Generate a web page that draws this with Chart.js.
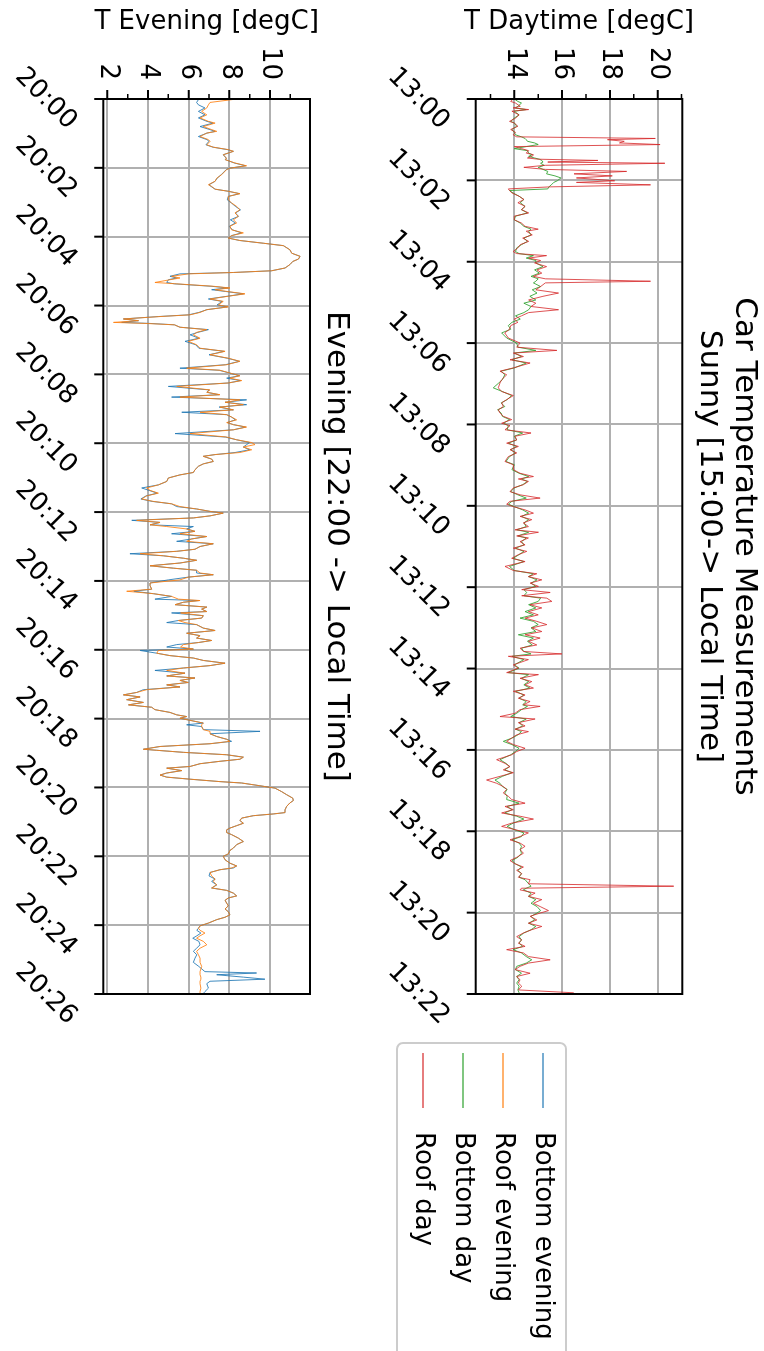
<!DOCTYPE html>
<html lang="en">
<head>
<meta charset="UTF-8">
<title>Car Temperature Measurements</title>
<script src="https://cdn.jsdelivr.net/npm/chart.js@4"></script>
<style>
  body { margin: 0; background: #fff; overflow: hidden; }
  /* the figure is laid out landscape and turned a quarter turn clockwise */
  #fig {
    position: absolute; left: 0; top: 0;
    width: 1351px; height: 764px;
    transform-origin: 0 0;
    transform: translate(764px, 0) rotate(90deg);
    background: #fff;
  }
  #fig canvas { position: absolute; left: 0; }
  #dayCanvas { top: 0; }
  #eveCanvas { top: 400px; }
</style>
</head>
<body>
<div id="fig">
  <canvas id="dayCanvas" width="1351" height="400"></canvas>
  <canvas id="eveCanvas" width="1351" height="364"></canvas>
</div>
<script>
// minutes after 13:00
const dayMinutes = [
  0, 0.06, 0.1, 0.18, 0.22, 0.26, 0.3, 0.39, 0.47, 0.55,
  0.59, 0.67, 0.75, 0.82, 0.88, 0.93, 0.97, 1.0, 1.04, 1.08,
  1.12, 1.17, 1.22, 1.27, 1.33, 1.37, 1.41, 1.45, 1.48, 1.51,
  1.55, 1.58, 1.63, 1.68, 1.73, 1.78, 1.84, 1.89, 1.94, 2.01,
  2.05, 2.11, 2.16, 2.21, 2.25, 2.31, 2.39, 2.47, 2.55, 2.64,
  2.72, 2.8, 2.88, 2.97, 3.05, 3.13, 3.2, 3.25, 3.34, 3.42,
  3.5, 3.58, 3.66, 3.75, 3.8, 3.85, 3.91, 3.97, 4.03, 4.12,
  4.2, 4.28, 4.36, 4.42, 4.48, 4.52, 4.61, 4.69, 4.77, 4.85,
  4.94, 5.02, 5.1, 5.18, 5.25, 5.33, 5.41, 5.49, 5.57, 5.66,
  5.75, 5.875, 6.0, 6.1, 6.18, 6.245, 6.33, 6.41, 6.49, 6.61,
  6.69, 6.78, 6.9, 6.98, 7.1, 7.19, 7.29, 7.39, 7.47, 7.56,
  7.64, 7.72, 7.8, 7.88, 7.97, 8.03, 8.13, 8.21, 8.29, 8.38,
  8.46, 8.54, 8.62, 8.7, 8.79, 8.91, 8.99, 9.11, 9.2, 9.28,
  9.34, 9.4, 9.48, 9.56, 9.65, 9.73, 9.81, 9.89, 9.96, 10.02,
  10.1, 10.18, 10.26, 10.34, 10.42, 10.51, 10.59, 10.65, 10.74, 10.79,
  10.88, 10.96, 11.04, 11.12, 11.2, 11.29, 11.37, 11.49, 11.59, 11.67,
  11.74, 11.82, 11.9, 11.98, 12.06, 12.13, 12.21, 12.27, 12.35, 12.43,
  12.51, 12.6, 12.68, 12.76, 12.84, 12.92, 13.0, 13.09, 13.17, 13.25,
  13.33, 13.42, 13.5, 13.58, 13.64, 13.7, 13.78, 13.91, 13.99, 14.1,
  14.15, 14.24, 14.32, 14.4, 14.48, 14.56, 14.65, 14.73, 14.81, 14.89,
  14.93, 15.01, 15.1, 15.18, 15.24, 15.33, 15.41, 15.49, 15.55, 15.63,
  15.71, 15.79, 15.87, 15.96, 16.04, 16.12, 16.24, 16.33, 16.41, 16.49,
  16.56, 16.65, 16.74, 16.82, 16.9, 16.97, 17.06, 17.14, 17.22, 17.31,
  17.39, 17.47, 17.55, 17.63, 17.7, 17.8, 17.88, 17.96, 18.04, 18.13,
  18.21, 18.29, 18.37, 18.45, 18.54, 18.64, 18.72, 18.8, 18.88, 18.96,
  19.04, 19.13, 19.19, 19.29, 19.35, 19.4, 19.44, 19.52, 19.6, 19.68,
  19.77, 19.85, 19.95, 20.01, 20.09, 20.18, 20.26, 20.34, 20.42, 20.5,
  20.59, 20.67, 20.75, 20.83, 20.91, 20.99, 21.08, 21.16, 21.24, 21.32,
  21.4, 21.49, 21.57, 21.65, 21.73, 21.81, 21.9, 21.97, 22.0
];
const roofDay = [
  13.95, 13.85, 14.05, 14.25, 13.95, 14.6, 13.9, 14.2, 14.05, 13.8,
  14.0, 14.15, 13.85, 14.05, 13.95, 14.1, 19.9, 17.9, 18.6, 18.4,
  20.1, 14.0, 14.3, 14.6, 14.5, 14.8, 14.75, 14.55, 15.0, 17.5,
  15.4, 20.3, 15.3, 14.4, 15.3, 18.7, 16.5, 18.1, 16.6, 18.2,
  16.6, 19.7, 15.5, 13.75, 13.8, 13.9, 14.2, 14.4, 14.15, 14.45,
  14.3, 14.6, 14.0, 14.0, 14.3, 14.45, 15.0, 14.5, 14.75, 14.35,
  14.6, 14.25, 14.15, 13.95, 14.1, 15.35, 14.6, 15.1, 14.85, 15.35,
  14.95, 15.15, 14.8, 15.3, 19.7, 15.3, 15.1, 14.9, 15.85, 15.2,
  14.6, 14.9, 14.7, 15.85, 14.6, 14.3, 14.0, 14.15, 13.85, 13.8,
  13.6, 13.75, 14.24, 14.1, 15.78, 13.96, 14.38, 13.82, 14.66, 13.96,
  13.4, 13.68, 13.47, 13.4, 13.33, 13.47, 13.96, 13.68, 13.47, 13.54,
  13.33, 13.4, 13.54, 13.89, 13.47, 13.82, 13.61, 14.7, 14.03, 14.1,
  13.68, 14.17, 13.82, 14.1, 13.75, 13.61, 13.96, 13.96, 14.24, 14.8,
  14.17, 14.59, 14.38, 13.96, 13.82, 14.24, 15.08, 13.82, 13.68, 13.96,
  14.45, 14.8, 14.24, 14.73, 14.38, 14.59, 14.03, 15.01, 14.1, 14.59,
  14.24, 14.45, 13.96, 14.52, 14.17, 13.89, 14.45, 13.61, 13.96, 14.94,
  14.59, 15.15, 14.66, 15.01, 14.31, 15.5, 14.31, 15.36, 15.57, 14.66,
  15.15, 14.59, 15.0, 14.45, 14.94, 15.36, 14.73, 15.15, 14.45, 15.08,
  14.59, 14.94, 14.24, 14.38, 15.99, 13.75, 14.59, 13.96, 14.17, 13.68,
  15.01, 14.24, 14.73, 14.45, 14.8, 13.96, 14.45, 14.17, 14.66, 14.38,
  15.08, 14.24, 14.03, 13.4, 14.87, 14.17, 14.45, 14.03, 14.59, 14.1,
  13.89, 13.68, 13.96, 14.45, 14.1, 13.89, 13.26, 13.61, 13.82, 13.54,
  13.96, 13.4, 12.84, 13.26, 13.54, 13.68, 13.54, 13.75, 13.89, 14.45,
  13.61, 13.96, 13.47, 14.24, 14.8, 13.89, 13.47, 14.03, 14.59, 14.24,
  13.82, 14.24, 14.45, 14.24, 14.38, 14.1, 13.82, 14.03, 14.38, 14.1,
  14.31, 14.17, 14.66, 14.59, 20.67, 14.3, 14.24, 14.87, 14.59, 15.15,
  14.8, 15.08, 15.43, 15.08, 14.66, 14.94, 14.59, 15.15, 14.73, 14.38,
  14.1, 14.31, 14.17, 14.45, 13.68, 14.38, 14.59, 15.5, 14.59, 14.24,
  14.03, 14.66, 14.1, 14.24, 14.17, 14.31, 14.17, 16.48, 16.48
];
const bottomDay = [
  14.0, 14.15, 14.3, 14.15, 14.05, 14.5, 14.0, 14.2, 14.0, 13.85,
  14.0, 14.1, 13.9, 14.0, 14.05, 14.3, 14.45, 14.5, 14.55, 14.85,
  15.0, 14.5, 14.0, 14.55, 14.6, 14.75, 14.6, 14.85, 15.05, 15.15,
  15.2, 15.1, 15.25, 15.0, 15.2, 15.4, 15.35, 15.7, 15.95, 15.8,
  15.65, 15.55, 15.45, 15.4, 13.8, 13.95, 14.2, 14.4, 14.25, 14.45,
  14.3, 14.55, 14.05, 14.0, 14.25, 14.4, 14.7, 14.6, 14.7, 14.4,
  14.55, 14.3, 14.1, 14.05, 14.2, 14.8, 14.5, 14.9, 14.9, 15.2,
  14.85, 15.05, 14.7, 15.0, 14.9, 14.8, 15.1, 14.75, 14.95, 14.65,
  14.9, 14.4, 14.7, 14.6, 14.4, 14.05, 14.25, 13.9, 13.75, 13.85,
  13.47, 13.68, 14.1, 14.15, 14.9, 14.0, 14.3, 13.9, 14.5, 14.0,
  13.45, 13.6, 13.5, 13.35, 13.12, 13.5, 13.89, 13.7, 13.45, 13.6,
  13.3, 13.45, 13.5, 13.8, 13.55, 13.75, 13.7, 14.35, 14.0, 14.1,
  13.75, 14.1, 13.85, 14.05, 13.8, 13.65, 14.0, 13.9, 14.2, 14.6,
  14.3, 14.55, 14.35, 14.0, 13.85, 14.15, 14.5, 13.9, 13.75, 14.0,
  14.35, 14.6, 14.3, 14.6, 14.4, 14.5, 14.1, 14.6, 14.15, 14.5,
  14.3, 14.4, 14.05, 14.4, 14.2, 13.95, 14.4, 13.8, 14.0, 14.8,
  14.6, 14.95, 14.7, 14.9, 14.4, 14.52, 14.4, 15.1, 15.0, 14.6,
  14.9, 14.45, 14.8, 14.24, 14.8, 15.0, 14.7, 14.9, 14.17, 14.8,
  14.55, 14.75, 14.3, 14.4, 14.7, 13.9, 14.4, 14.0, 14.2, 13.75,
  14.6, 14.3, 14.6, 14.4, 14.65, 14.05, 14.4, 14.2, 14.5, 14.35,
  14.55, 14.3, 14.1, 13.85, 14.5, 14.2, 14.35, 14.05, 14.3, 14.15,
  13.9, 13.54, 13.9, 14.2, 14.05, 13.85, 13.4, 13.65, 13.8, 13.6,
  13.9, 13.5, 13.19, 13.4, 13.5, 13.7, 13.6, 13.7, 13.68, 14.2,
  13.7, 13.9, 13.6, 14.1, 14.4, 13.95, 13.7, 14.0, 14.4, 14.3,
  13.9, 14.2, 14.3, 14.25, 14.3, 14.15, 13.9, 14.05, 14.3, 14.15,
  14.3, 14.2, 14.45, 14.6, 14.7, 14.5, 14.38, 14.7, 14.6, 14.9,
  14.7, 14.95, 15.1, 14.95, 14.7, 14.85, 14.6, 14.9, 14.7, 14.4,
  14.2, 14.3, 14.2, 14.35, 13.95, 14.3, 14.5, 14.73, 14.5, 14.1,
  14.05, 14.3, 14.1, 14.2, 14.1, 14.2, 14.15, 14.2, 14.2
];

// minutes after 20:00
const eveMinutes = [
  0, 0.1, 0.17, 0.26, 0.36, 0.46, 0.55, 0.65, 0.7, 0.8,
  0.89, 0.94, 0.99, 1.09, 1.18, 1.23, 1.33, 1.4, 1.47, 1.52,
  1.62, 1.72, 1.76, 1.86, 1.94, 2.01, 2.05, 2.2, 2.3, 2.39,
  2.49, 2.54, 2.62, 2.68, 2.75, 2.83, 2.93, 3.02, 3.12, 3.22,
  3.31, 3.41, 3.51, 3.6, 3.7, 3.8, 3.89, 3.97, 4.04, 4.11,
  4.19, 4.26, 4.38, 4.48, 4.57, 4.65, 4.72, 4.81, 4.91, 4.99,
  5.04, 5.08, 5.15, 5.2, 5.25, 5.33, 5.37, 5.44, 5.49, 5.54,
  5.59, 5.66, 5.73, 5.81, 5.88, 5.98, 6.04, 6.12, 6.2, 6.27,
  6.32, 6.39, 6.44, 6.49, 6.52, 6.56, 6.63, 6.7, 6.78, 6.85,
  6.95, 7.04, 7.14, 7.24, 7.33, 7.43, 7.53, 7.62, 7.72, 7.82,
  7.88, 7.96, 8.04, 8.11, 8.18, 8.25, 8.35, 8.45, 8.52, 8.59,
  8.66, 8.74, 8.81, 8.88, 8.95, 9.03, 9.1, 9.17, 9.24, 9.32,
  9.4, 9.46, 9.53, 9.61, 9.72, 9.82, 9.9, 9.98, 10.04, 10.11,
  10.19, 10.27, 10.33, 10.38, 10.46, 10.53, 10.6, 10.67, 10.77, 10.85,
  10.92, 11.01, 11.11, 11.21, 11.3, 11.37, 11.45, 11.53, 11.62, 11.69,
  11.76, 11.84, 11.91, 11.98, 12.03, 12.11, 12.17, 12.24, 12.3, 12.37,
  12.42, 12.49, 12.56, 12.63, 12.71, 12.78, 12.85, 12.92, 13.0, 13.08,
  13.14, 13.21, 13.27, 13.34, 13.4, 13.48, 13.56, 13.63, 13.69, 13.77,
  13.82, 13.89, 13.97, 14.06, 14.14, 14.24, 14.3, 14.37, 14.45, 14.53,
  14.57, 14.62, 14.69, 14.76, 14.82, 14.89, 14.93, 15.01, 15.08, 15.15,
  15.21, 15.27, 15.37, 15.44, 15.52, 15.59, 15.66, 15.73, 15.79, 15.85,
  15.92, 15.98, 16.02, 16.1, 16.17, 16.24, 16.31, 16.39, 16.46, 16.53,
  16.6, 16.68, 16.76, 16.82, 16.89, 16.95, 17.02, 17.08, 17.16, 17.24,
  17.31, 17.37, 17.45, 17.53, 17.6, 17.67, 17.74, 17.82, 17.89, 17.94,
  17.99, 18.05, 18.13, 18.18, 18.23, 18.32, 18.37, 18.44, 18.52, 18.6,
  18.66, 18.73, 18.81, 18.89, 18.92, 18.98, 19.05, 19.12, 19.18, 19.24,
  19.31, 19.39, 19.44, 19.51, 19.58, 19.64, 19.7, 19.76, 19.83, 19.87,
  19.95, 20.02, 20.12, 20.21, 20.31, 20.38, 20.45, 20.55, 20.65, 20.73,
  20.77, 20.82, 20.89, 20.96, 21.04, 21.11, 21.18, 21.23, 21.31, 21.37,
  21.47, 21.57, 21.66, 21.76, 21.83, 21.93, 22.0, 22.1, 22.2, 22.28,
  22.34, 22.39, 22.47, 22.57, 22.66, 22.73, 22.83, 22.92, 22.99, 23.07,
  23.15, 23.21, 23.28, 23.36, 23.44, 23.53, 23.61, 23.7, 23.77, 23.84,
  23.94, 24.02, 24.09, 24.15, 24.23, 24.31, 24.38, 24.47, 24.57, 24.67,
  24.76, 24.86, 24.96, 25.08, 25.2, 25.35, 25.39, 25.44, 25.51, 25.57,
  25.63, 25.7, 25.83, 25.93, 26.0
];
const roofEvening = [
  8.36, 7.05, 6.97, 6.89, 6.64, 6.89, 6.56, 6.97, 7.3, 6.72,
  7.13, 7.38, 6.89, 6.56, 6.97, 7.05, 6.89, 7.21, 7.95, 8.2,
  7.7, 7.87, 7.79, 8.28, 8.85, 8.03, 7.87, 7.62, 7.38, 7.3,
  6.97, 7.13, 7.3, 7.95, 8.52, 7.95, 7.95, 8.11, 8.36, 8.52,
  8.28, 8.44, 8.2, 8.36, 8.03, 8.11, 8.69, 8.11, 7.95, 8.52,
  9.67, 10.66, 10.98, 11.07, 11.48, 11.4, 11.12, 10.98, 10.74, 10.08,
  8.2, 6.0, 5.16, 5.57, 5.08, 4.34, 5.41, 7.21, 8.03, 7.3,
  7.87, 8.77, 7.95, 7.05, 7.7, 7.46, 7.95, 6.89, 6.56, 6.07,
  4.59, 2.79, 3.53, 2.3, 3.9, 5.3, 5.57, 6.89, 6.39, 6.23,
  6.56, 5.98, 6.39, 6.56, 7.79, 7.05, 7.95, 8.52, 7.87, 5.9,
  7.54, 8.03, 8.52, 8.03, 8.61, 7.95, 5.41, 7.05, 6.89, 7.54,
  5.57, 8.52, 7.79, 8.69, 7.54, 8.2, 6.56, 7.87, 8.11, 8.36,
  7.87, 8.2, 8.85, 8.2, 6.07, 7.87, 8.36, 9.1, 9.26, 8.69,
  9.1, 8.52, 7.3, 6.72, 7.13, 7.21, 6.72, 6.48, 6.31, 6.23,
  5.57, 5.0, 4.92, 4.51, 3.93, 4.1, 4.51, 3.93, 3.69, 4.26,
  5.16, 5.57, 6.39, 7.05, 7.7, 7.05, 6.23, 3.44, 4.59, 4.1,
  4.92, 5.9, 6.31, 5.57, 6.89, 6.15, 5.9, 7.21, 6.56, 6.31,
  5.41, 3.61, 4.75, 5.74, 6.39, 5.57, 4.1, 5.25, 6.39, 6.56,
  7.21, 5.98, 5.57, 4.1, 4.1, 4.18, 2.95, 4.26, 5.16, 5.5,
  6.56, 5.74, 5.33, 6.89, 6.64, 6.89, 5.6, 6.72, 6.64, 5.49,
  5.82, 6.39, 6.72, 7.3, 5.9, 6.56, 6.39, 7.13, 6.48, 5.74,
  5.6, 6.23, 4.51, 4.43, 5.08, 6.23, 6.72, 7.79, 7.05, 5.74,
  4.92, 5.82, 4.92, 6.31, 5.57, 5.98, 4.92, 5.57, 3.93, 3.44,
  2.79, 3.61, 2.95, 3.77, 3.04, 4.18, 4.34, 5.08, 5.41, 5.9,
  5.57, 6.07, 6.72, 6.64, 6.64, 6.72, 7.05, 7.05, 7.38, 7.87,
  8.03, 7.05, 4.59, 3.77, 4.43, 5.74, 7.87, 8.69, 8.52, 7.54,
  6.56, 6.07, 4.92, 5.66, 4.92, 4.59, 4.92, 6.07, 7.54, 8.6,
  9.5, 10.25, 10.57, 10.82, 11.12, 11.15, 10.98, 10.82, 10.74, 10.74,
  10.16, 9.18, 8.61, 8.52, 8.69, 8.36, 8.03, 7.87, 7.87, 8.11,
  8.44, 8.69, 8.36, 8.2, 8.03, 7.95, 7.7, 7.79, 8.03, 8.36,
  8.11, 7.54, 7.05, 7.13, 7.3, 7.21, 7.38, 7.13, 7.87, 8.2,
  8.36, 7.95, 7.79, 7.87, 7.95, 7.79, 7.95, 8.03, 7.79, 7.38,
  6.97, 6.56, 6.48, 6.56, 6.8, 6.56, 6.39, 6.72, 6.89, 6.56,
  6.39, 6.48, 6.56, 6.56, 6.64, 6.56, 6.56, 6.56, 6.6, 6.6,
  6.56, 6.56, 6.6, 6.56, 6.56
];
const bottomEvening = [
  6.5, 6.39, 6.48, 6.8, 6.48, 6.8, 6.48, 6.9, 7.2, 6.56,
  7.05, 7.3, 6.9, 6.48, 6.9, 7.0, 6.85, 7.2, 7.9, 8.2,
  7.7, 7.85, 7.8, 8.25, 8.8, 8.0, 7.85, 7.6, 7.4, 7.3,
  7.0, 7.1, 7.3, 7.95, 8.5, 7.95, 7.9, 8.1, 8.3, 8.55,
  8.3, 8.45, 8.05, 8.3, 8.0, 8.15, 8.6, 8.1, 7.95, 8.5,
  9.67, 10.66, 10.98, 11.07, 11.48, 11.4, 11.12, 10.98, 10.74, 10.08,
  8.2, 5.57, 5.08, 5.41, 5.0, 4.92, 5.3, 7.1, 7.95, 7.13,
  7.8, 8.7, 7.9, 6.97, 7.65, 7.4, 7.9, 6.9, 6.5, 6.0,
  4.5, 2.79, 3.53, 2.7, 4.1, 5.3, 5.57, 6.97, 6.45, 6.07,
  6.5, 5.82, 6.35, 6.5, 7.75, 7.0, 7.9, 8.5, 7.8, 5.57,
  7.5, 8.0, 8.5, 7.87, 8.55, 7.95, 5.0, 7.0, 6.9, 7.5,
  5.16, 8.85, 7.79, 8.85, 7.5, 8.2, 5.66, 7.87, 8.11, 8.3,
  7.9, 8.2, 8.8, 8.2, 5.33, 7.8, 8.36, 9.0, 8.85, 8.69,
  9.0, 8.28, 7.3, 6.72, 7.13, 7.21, 6.72, 6.48, 6.31, 6.23,
  5.57, 5.0, 4.92, 4.51, 3.69, 4.05, 4.45, 3.9, 3.65, 4.2,
  5.16, 5.41, 6.39, 7.05, 7.7, 7.05, 6.23, 3.2, 4.59, 4.1,
  6.23, 5.9, 6.31, 5.16, 6.89, 6.15, 5.41, 7.21, 6.56, 6.31,
  5.41, 3.11, 4.75, 5.74, 6.39, 5.57, 4.1, 5.25, 6.39, 6.39,
  7.21, 5.98, 5.0, 4.1, 4.1, 4.18, 3.3, 4.26, 5.16, 4.34,
  6.5, 5.74, 5.33, 6.89, 6.64, 6.89, 5.16, 6.72, 6.64, 5.49,
  4.92, 6.39, 6.72, 7.3, 5.9, 6.56, 6.39, 7.13, 6.48, 5.41,
  4.92, 6.23, 3.61, 4.43, 5.08, 6.23, 6.72, 7.79, 7.05, 5.74,
  4.34, 5.82, 4.92, 6.31, 5.57, 5.98, 4.92, 5.57, 3.77, 3.44,
  2.79, 3.61, 2.95, 3.77, 3.04, 4.18, 4.34, 5.08, 5.41, 5.9,
  5.57, 6.07, 6.72, 5.9, 6.64, 6.72, 9.51, 7.05, 7.38, 7.87,
  8.11, 7.05, 4.59, 3.77, 4.43, 5.74, 7.87, 8.69, 8.52, 7.54,
  6.56, 6.07, 4.92, 5.66, 4.92, 4.59, 4.92, 6.07, 7.54, 8.6,
  9.5, 10.25, 10.57, 10.82, 11.12, 11.15, 10.98, 10.82, 10.74, 10.74,
  10.16, 9.18, 8.61, 8.52, 8.69, 8.36, 8.03, 7.87, 7.87, 8.11,
  8.44, 8.69, 8.36, 8.2, 8.03, 7.95, 7.7, 7.79, 8.03, 8.36,
  8.2, 7.54, 7.05, 7.0, 7.3, 7.13, 7.38, 7.13, 7.87, 8.2,
  8.36, 7.95, 7.79, 7.87, 7.95, 7.79, 7.95, 8.03, 7.79, 7.38,
  6.97, 6.56, 6.48, 6.4, 6.6, 6.4, 6.2, 6.5, 6.56, 6.39,
  6.23, 6.4, 6.31, 6.23, 6.5, 6.8, 9.34, 7.38, 8.69, 9.75,
  7.05, 6.89, 6.97, 6.8, 6.7
];

// axis ticks and labels
const dayXTicks = [0, 2, 4, 6, 8, 10, 12, 14, 16, 18, 20, 22];
const dayXLabels = ['13:00', '13:02', '13:04', '13:06', '13:08', '13:10', '13:12', '13:14', '13:16', '13:18', '13:20', '13:22'];
const eveXTicks = [0, 2, 4, 6, 8, 10, 12, 14, 16, 18, 20, 22, 24, 26];
const eveXLabels = ['20:00', '20:02', '20:04', '20:06', '20:08', '20:10', '20:12', '20:14', '20:16', '20:18', '20:20', '20:22', '20:24', '20:26'];
const dayYTicks = [14, 16, 18, 20];
const dayYMinor = [13, 15, 17, 19, 21];
const eveYTicks = [2, 4, 6, 8, 10];
const eveYMinor = [3, 5, 7, 9, 11];

const FONT = 'DejaVu Sans';
const BLUE = '#1f77b4', ORANGE = '#ff7f0e', GREEN = '#2ca02c', RED = '#d62728';
const legendItems = [
  { label: 'Bottom evening', color: BLUE },
  { label: 'Roof evening', color: ORANGE },
  { label: 'Bottom day', color: GREEN },
  { label: 'Roof day', color: RED }
];

function pts(xs, ys) {
  return xs.map((x, i) => ({ x: x, y: ys[i] }));
}

// frame, tick marks, rotated time labels, titles and the shared legend
const decor = {
  id: 'decor',
  afterDraw(chart, args, o) {
    const ctx = chart.ctx, a = chart.chartArea;
    const sx = chart.scales.x, sy = chart.scales.y;
    ctx.save();
    ctx.strokeStyle = '#000';
    ctx.lineWidth = 2;
    ctx.beginPath();
    o.xTicks.forEach(v => {
      const x = sx.getPixelForValue(v);
      ctx.moveTo(x, a.bottom); ctx.lineTo(x, a.bottom + 9);
    });
    o.yTicks.forEach(v => {
      const y = sy.getPixelForValue(v);
      ctx.moveTo(a.left, y); ctx.lineTo(a.left - 9, y);
    });
    ctx.stroke();
    ctx.lineWidth = 1.5;
    ctx.beginPath();
    o.yMinor.forEach(v => {
      const y = sy.getPixelForValue(v);
      ctx.moveTo(a.left, y); ctx.lineTo(a.left - 5, y);
    });
    ctx.stroke();
    ctx.lineWidth = 2;
    ctx.strokeRect(a.left, a.top, a.right - a.left, a.bottom - a.top);

    ctx.fillStyle = '#000';
    ctx.font = '26px "' + FONT + '"';
    ctx.textAlign = 'center';
    ctx.textBaseline = 'middle';
    o.xTicks.forEach((v, i) => {
      ctx.save();
      ctx.translate(sx.getPixelForValue(v), a.bottom + 57.5);
      ctx.rotate(-Math.PI / 4);
      ctx.fillText(o.xLabels[i], 0, 0);
      ctx.restore();
    });

    ctx.font = '31px "' + FONT + '"';
    const cx = (a.left + a.right) / 2;
    o.title.forEach(t => ctx.fillText(t.text, cx, t.y));

    if (o.legend) {
      const L = o.legend;
      ctx.beginPath();
      ctx.roundRect(L.x, L.y, L.w, L.h, 6);
      ctx.fillStyle = 'rgba(255,255,255,0.8)';
      ctx.fill();
      ctx.strokeStyle = '#cccccc';
      ctx.lineWidth = 2;
      ctx.stroke();
      ctx.font = '26px "' + FONT + '"';
      ctx.textAlign = 'left';
      legendItems.forEach((it, i) => {
        const y = L.y + 23 + i * 40;
        ctx.strokeStyle = it.color;
        ctx.globalAlpha = 0.8;
        ctx.lineWidth = 1.3;
        ctx.beginPath();
        ctx.moveTo(L.x + 10, y); ctx.lineTo(L.x + 65, y);
        ctx.stroke();
        ctx.globalAlpha = 1;
        ctx.fillStyle = '#000';
        ctx.fillText(it.label, L.x + 89, y);
      });
    }
    ctx.restore();
  }
};

function makeChart(id, cfg) {
  const grid = { color: '#b0b0b0', lineWidth: 2, drawTicks: false };
  return new Chart(document.getElementById(id), {
    type: 'line',
    data: { datasets: cfg.datasets },
    options: {
      responsive: false,
      animation: false,
      devicePixelRatio: 1,
      layout: { padding: { left: 0, right: 357, top: cfg.top, bottom: 0 } },
      elements: { point: { radius: 0 }, line: { borderWidth: 1, tension: 0 } },
      plugins: {
        legend: { display: false },
        tooltip: { enabled: false },
        decor: cfg.decor
      },
      scales: {
        x: {
          type: 'linear', min: cfg.xMin, max: cfg.xMax,
          afterBuildTicks: s => { s.ticks = cfg.decor.xTicks.map(v => ({ value: v })); },
          afterFit: s => { s.height = cfg.xHeight; },
          ticks: { display: false },
          grid: grid,
          border: { display: false }
        },
        y: {
          min: cfg.yMin, max: cfg.yMax,
          afterBuildTicks: s => { s.ticks = cfg.decor.yTicks.map(v => ({ value: v })); },
          afterFit: s => { s.width = 99; },
          ticks: { color: '#000', padding: 19, font: { family: FONT, size: 26 } },
          grid: grid,
          border: { display: false },
          title: {
            display: true, text: cfg.yTitle, color: '#000',
            font: { family: FONT, size: 26 }, padding: { top: 6.5, bottom: 0 }
          }
        }
      }
    },
    plugins: [decor]
  });
}

makeChart('dayCanvas', {
  top: 81.7, xHeight: 111.7,
  xMin: 0, xMax: 22, yMin: 12.385, yMax: 21.03,
  yTitle: 'T Daytime [degC]',
  datasets: [
    { label: 'Roof day', data: pts(dayMinutes, roofDay), borderColor: 'rgba(214,39,40,0.8)' },
    { label: 'Bottom day', data: pts(dayMinutes, bottomDay), borderColor: 'rgba(44,160,44,0.85)' }
  ],
  decor: {
    xTicks: dayXTicks, xLabels: dayXLabels, yTicks: dayYTicks, yMinor: dayYMinor,
    title: [
      { text: 'Car Temperature Measurements', y: 20 },
      { text: 'Sunny [15:00-> Local Time]', y: 55 }
    ],
    legend: { x: 1043, y: 198, w: 330, h: 169 }
  }
});

makeChart('eveCanvas', {
  top: 54, xHeight: 103.3,
  xMin: 0, xMax: 26, yMin: 1.8, yMax: 11.97,
  yTitle: 'T Evening [degC]',
  datasets: [
    { label: 'Roof evening', data: pts(eveMinutes, roofEvening), borderColor: 'rgba(255,127,14,0.85)' },
    { label: 'Bottom evening', data: pts(eveMinutes, bottomEvening), borderColor: 'rgba(31,119,180,0.85)' }
  ],
  decor: {
    xTicks: eveXTicks, xLabels: eveXLabels, yTicks: eveYTicks, yMinor: eveYMinor,
    title: [{ text: 'Evening [22:00 -> Local Time]', y: 28 }],
    legend: null
  }
});
</script>
</body>
</html>
